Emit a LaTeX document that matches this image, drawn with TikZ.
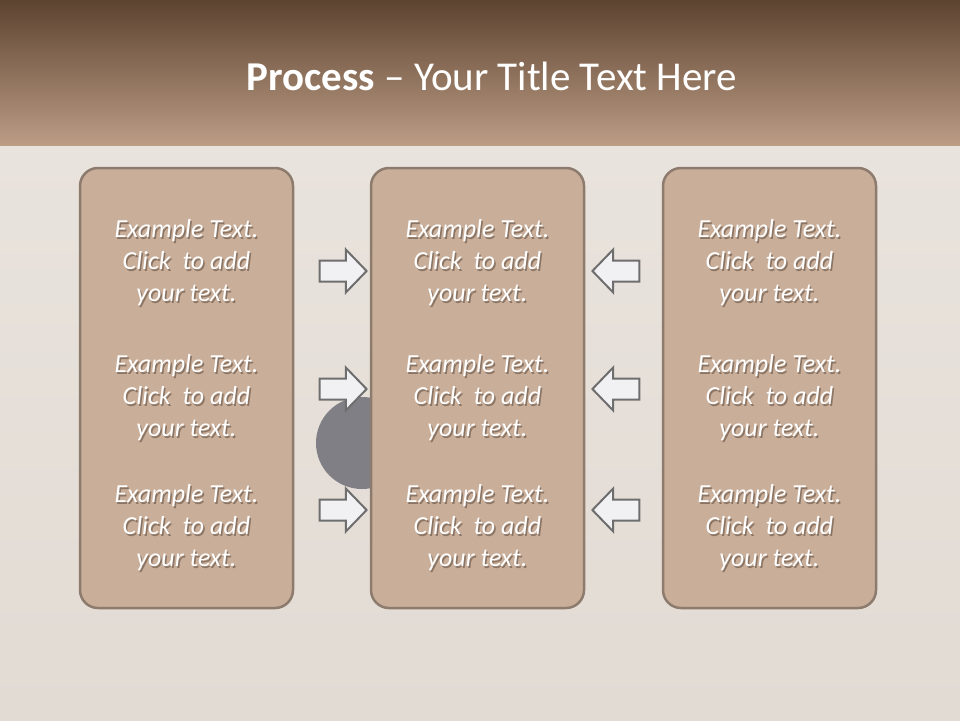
\documentclass[tikz,border=0pt]{standalone}
\usepackage{fontspec}
\setmainfont{Carlito}
\usetikzlibrary{shapes.arrows,positioning}
\definecolor{bark}{HTML}{5D4430}
\definecolor{tan}{HTML}{BC9C85}
\definecolor{board}{HTML}{E9E3DD}
\definecolor{boardlow}{HTML}{E2DBD4}
\definecolor{panel}{HTML}{C9AE99}
\definecolor{rim}{HTML}{8D7B6E}
\definecolor{textshade}{HTML}{8A7464}
\definecolor{pointer}{HTML}{6F6E6E}
\definecolor{pointerfill}{HTML}{F1F1F3}
\definecolor{nail}{HTML}{555763}
\newcommand\shadedline[1]{\rlap{\kern1.5pt\raisebox{-2pt}{\color{textshade}#1}}#1}
\newcommand\sampletext{\shadedline{Example Text.}\\\shadedline{Click\ \ to add}\\\shadedline{your text.}}
\tikzset{panelbox/.style={draw=rim,fill=panel,line width=2.5pt,rounded corners=18pt,minimum width=213pt,minimum height=440pt},
pointer/.style={single arrow,draw=pointer,fill=pointerfill,line width=2pt,inner sep=9.5pt,minimum height=47pt,minimum width=42pt,single arrow head extend=11pt,single arrow tip angle=92},
bodytext/.style={font=\fontsize{26}{32}\selectfont\itshape,align=center,text=white}}
\begin{document}
\begin{tikzpicture}[x=1pt,y=-1pt]
\useasboundingbox (0,0) rectangle (960,720);
\fill[top color=board,bottom color=boardlow] (0,145) rectangle (960,720);
\fill[nail,opacity=.7] (362,443) circle[radius=46];
\shade[top color=bark,bottom color=tan] (0,0) rectangle (960,145);
\node[text=white,font=\fontsize{41}{44}\selectfont] (title) at (492,76) {\textbf{Process} – Your Title Text Here};
% three columns of boxes
\foreach \c/\x in {a/186.5,b/477.5,c/769.5}{
\node[panelbox] (box\c) at (\x,388) {};
\foreach \r/\y in {1/264,2/399,3/529}
\node[bodytext] (txt\c\r) at (\x,\y) {\sampletext};}
% arrows pointing to the middle box
\foreach \r/\y in {1/271,2/389,3/510}{
\node[pointer] (toright\r) at (338,\y) {};
\node[pointer,shape border rotate=180] (toleft\r) at (621,\y) {};}
\end{tikzpicture}
\end{document}
